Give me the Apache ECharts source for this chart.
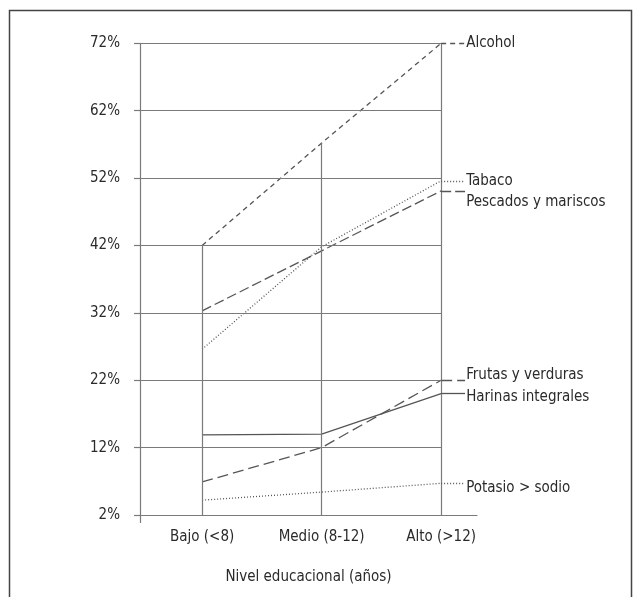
<!DOCTYPE html>
<html>
<head>
<meta charset="utf-8">
<script src="https://cdn.jsdelivr.net/npm/echarts@6/dist/echarts.min.js"></script>
<style>
html,body{margin:0;padding:0;background:#fff;}
#c{width:638px;height:597px;}
</style>
</head>
<body>
<div id="c"></div>
<script>
// ---- data ----
const categories = ['Bajo (<8)', 'Medio (8-12)', 'Alto (>12)'];
const yTicks = [2, 12, 22, 32, 42, 52, 62, 72];
const seriesNames = ['Alcohol', 'Tabaco', 'Pescados y mariscos', 'Frutas y verduras', 'Harinas integrales', 'Potasio > sodio'];
const alcohol  = [42.0, 57.2, 72.0];
const tabaco   = [26.6, 41.8, 51.6];
const pescados = [32.3, 41.2, 50.1];
const frutas   = [6.9, 12.0, 22.0];
const harinas  = [13.9, 14.0, 20.0];
const potasio  = [4.2, 5.4, 6.7];
const xAxisName = 'Nivel educacional (años)';

// ---- styles ----
const FONT = '"Liberation Sans Narrow", "DejaVu Sans Condensed", sans-serif';
const FS = 15;
const TXT = '#2a2a2a';
const LINE = '#555';
const GRID = '#7a7a7a';
const styles = [
  { type: [5, 4], width: 1.3 },
  { type: [1, 2], width: 1.3 },
  { type: [10, 4], width: 1.3 },
  { type: [11, 5], width: 1.3 },
  { type: 'solid', width: 1.3 },
  { type: [1, 2], width: 1.3 }
];
const labelOffsets = [0, 0, 11, -5, 3, 5];

const allValues = [alcohol, tabaco, pescados, frutas, harinas, potasio];
const xMin = 0.48, xMax = 3.3, leaderEnd = 3.2;
const yMin = yTicks[0], yMax = yTicks[yTicks.length - 1];

const chart = echarts.init(document.getElementById('c'), null, { renderer: 'canvas' });

const gridLines = yTicks.slice(1).map(t => [{ coord: [xMin, t] }, { coord: [categories.length, t] }]);
const dropLines = categories.map((c, i) => {
  const mx = Math.max(...allValues.map(a => a[i]));
  return [{ coord: [i + 1, yMin] }, { coord: [i + 1, mx] }];
});

const series = [{
  type: 'line', data: [], silent: true, clip: false,
  markLine: {
    silent: true, symbol: 'none', animation: false,
    label: { show: false },
    lineStyle: { color: GRID, width: 1.2, type: 'solid' },
    data: gridLines.concat(dropLines)
  }
}];

allValues.forEach((vals, s) => {
  const last = vals[vals.length - 1];
  series.push({
    type: 'line',
    name: seriesNames[s],
    data: vals.map((v, i) => [i + 1, v]),
    symbol: 'none',
    clip: false,
    animation: false,
    lineStyle: { color: LINE, width: styles[s].width, type: styles[s].type },
    endLabel: {
      show: true,
      formatter: seriesNames[s],
      distance: 25,
      offset: [0, labelOffsets[s]],
      color: TXT,
      fontFamily: FONT,
      fontSize: FS
    },
    markLine: {
      silent: true, symbol: 'none', animation: false,
      label: { show: false },
      lineStyle: { color: LINE, width: styles[s].width, type: styles[s].type },
      data: [[{ coord: [categories.length, last] }, { coord: [leaderEnd, last] }]]
    }
  });
});

chart.setOption({
  animation: false,
  backgroundColor: '#fff',
  grid: { left: 140, right: 161, top: 43.3, bottom: 82, containLabel: false },
  xAxis: {
    type: 'value', min: xMin, max: xMax,
    name: xAxisName, nameLocation: 'middle', nameGap: 55,
    nameTextStyle: { color: TXT, fontFamily: FONT, fontSize: FS },
    axisLine: { show: true, lineStyle: { color: GRID, width: 1.2 } },
    axisTick: { show: true, customValues: [xMin], length: 8, lineStyle: { color: GRID, width: 1.2 } },
    splitLine: { show: false },
    axisLabel: {
      customValues: categories.map((c, i) => i + 1),
      formatter: v => categories[Math.round(v) - 1] || '',
      color: TXT, fontFamily: FONT, fontSize: FS, margin: 15
    }
  },
  yAxis: {
    type: 'value', min: yMin, max: yMax,
    axisLine: { show: true, lineStyle: { color: GRID, width: 1.2 } },
    axisTick: { show: true, customValues: yTicks, length: 6, lineStyle: { color: GRID, width: 1.2 } },
    splitLine: { show: false },
    axisLabel: {
      customValues: yTicks,
      formatter: v => v + '%',
      color: TXT, fontFamily: FONT, fontSize: FS, margin: 20
    }
  },
  graphic: [{
    type: 'rect', silent: true,
    shape: { x: 9.5, y: 10.5, width: 622, height: 700 },
    style: { fill: 'none', stroke: '#444', lineWidth: 1.5 }
  }],
  series: series
});
</script>
</body>
</html>
